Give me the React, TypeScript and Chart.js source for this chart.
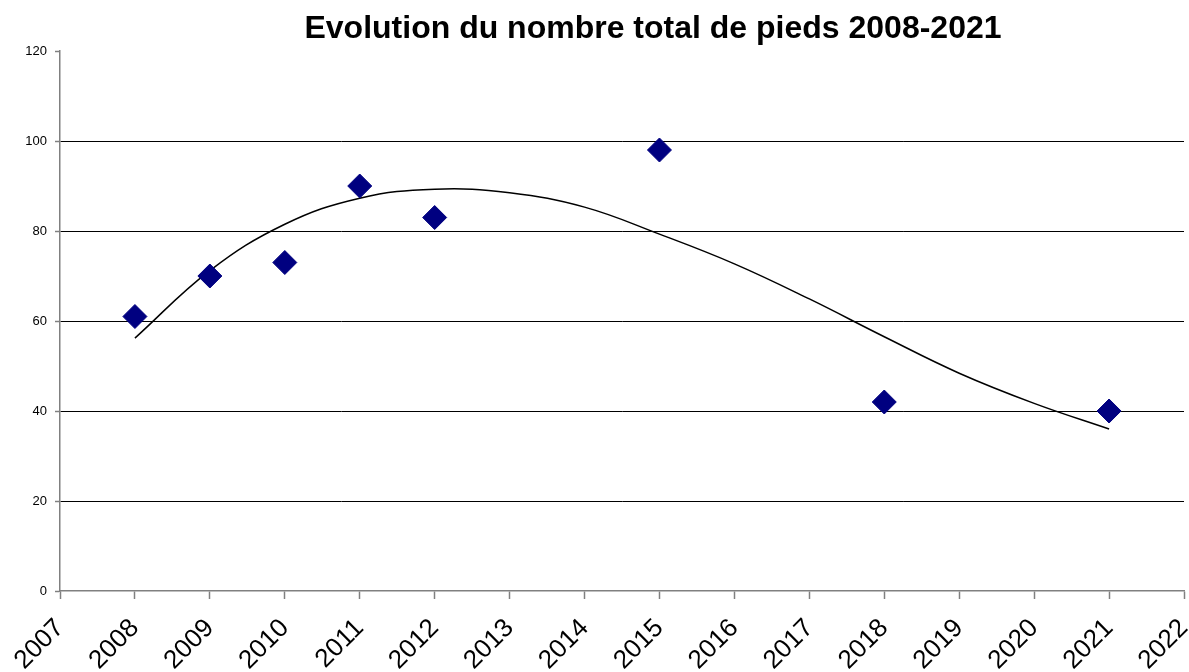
import React, { useEffect, useRef } from "react";
import { Chart, registerables } from "chart.js";

Chart.register(...registerables);

const title = "Evolution du nombre total de pieds 2008-2021";
const years = [2008, 2009, 2010, 2011, 2012, 2015, 2018, 2021];
const counts = [61, 70, 73, 90, 83, 98, 42, 40];
const trendYears = [2008, 2009, 2010, 2011, 2012, 2013, 2014, 2015, 2016, 2017, 2018, 2019, 2020, 2021];
const trendValues = [56.2, 71.2, 81.5, 87.3, 89.3, 88.5, 85.3, 79.3, 72.7, 64.9, 56.5, 48.4, 41.7, 36.0];
const xMin = 2007;
const xMax = 2022;
const yMin = 0;
const yMax = 120;
const yStep = 20;

const FONT = "'Liberation Sans', Arial, sans-serif";

export default function App() {
  const ref = useRef<HTMLCanvasElement | null>(null);
  useEffect(() => {
    document.body.style.margin = "0";
    const canvas = ref.current;
    if (!canvas) return;
    const titlePlugin = {
      id: "customTitle",
      afterDraw(chart: any) {
        const ctx = chart.ctx;
        ctx.save();
        ctx.font = `bold 32px ${FONT}`;
        ctx.fillStyle = "#000";
        ctx.textAlign = "center";
        ctx.textBaseline = "middle";
        ctx.fillText(title, 653, 29);
        ctx.restore();
      },
    };
    const chart = new Chart(canvas, {
      type: "scatter",
      data: {
        datasets: [
          {
            label: "Trend",
            data: trendYears.map((x, i) => ({ x, y: trendValues[i] })),
            showLine: true,
            borderColor: "#000",
            borderWidth: 1.5,
            pointRadius: 0,
            tension: 0.4,
            fill: false,
            order: 2,
          } as any,
          {
            label: "Pieds",
            data: years.map((x, i) => ({ x, y: counts[i] })),
            pointStyle: "rectRot",
            pointRadius: 12,
            backgroundColor: "#000080",
            borderColor: "#000080",
            borderWidth: 1,
            order: 1,
          },
        ],
      },
      plugins: [titlePlugin],
      options: {
        responsive: false,
        animation: false,
        layout: { autoPadding: false, padding: { top: 51, right: 5, left: 0, bottom: 0 } },
        plugins: { legend: { display: false }, tooltip: { enabled: false }, title: { display: false } },
        scales: {
          x: {
            type: "linear",
            min: xMin,
            max: xMax,
            ticks: {
              stepSize: 1,
              autoSkip: false,
              maxRotation: 45,
              minRotation: 45,
              padding: 14,
              color: "#000",
              font: { family: FONT, size: 26 },
              callback: (v: any) => String(v),
            },
            grid: {
              drawOnChartArea: false,
              drawTicks: true,
              tickLength: 8,
              tickColor: "#808080",
              tickWidth: 1.5,
            },
            border: { display: true, color: "#808080", width: 1.5 },
            afterFit: (s: any) => {
              s.height = 81;
              s.paddingLeft = 0;
              s.paddingRight = 0;
            },
          },
          y: {
            min: yMin,
            max: yMax,
            ticks: {
              stepSize: yStep,
              padding: 8,
              color: "#000",
              font: { family: FONT, size: 13 },
            },
            grid: {
              color: (c: any) => (c.tick && (c.tick.value === yMax || c.tick.value === yMin) ? "rgba(0,0,0,0)" : "#000"),
              lineWidth: 1,
              tickLength: 5,
              tickColor: "#808080",
              tickWidth: 1.5,
            },
            border: { display: true, color: "#808080", width: 1.5 },
            afterFit: (s: any) => {
              s.width = 60;
            },
          },
        },
      } as any,
    });
    return () => chart.destroy();
  }, []);
  return <canvas ref={ref} width={1189} height={672} style={{ display: "block" }} />;
}
